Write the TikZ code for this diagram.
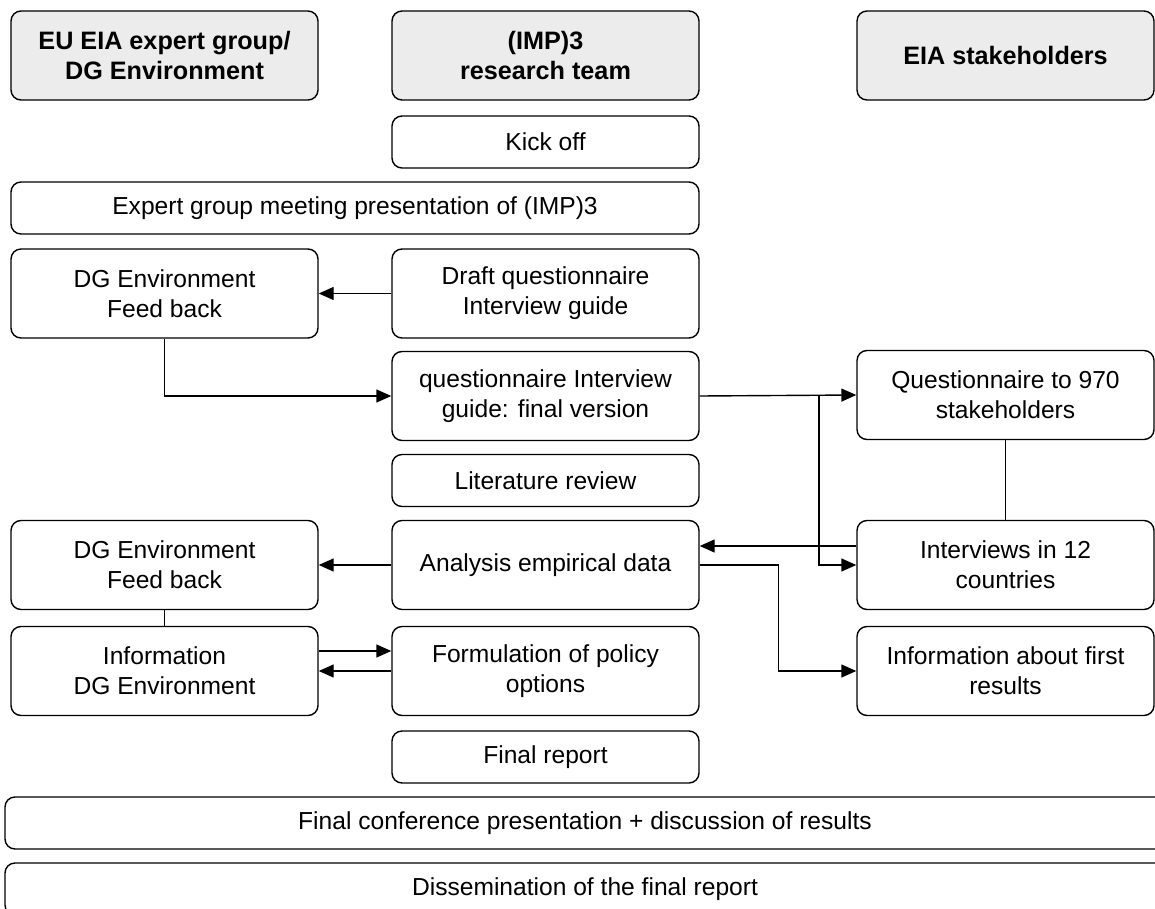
\documentclass[tikz,border=0pt]{standalone}
\usepackage{fontspec}
\setmainfont{Liberation Sans}
\usetikzlibrary{arrows.meta}
\definecolor{hdrfill}{RGB}{236,236,236}
\begin{document}
\begin{tikzpicture}[x=0.5pt,y=-0.5pt,
  box/.style={draw=black, line width=0.7pt, rounded corners=5pt, align=center,
    inner sep=0pt, font=\fontsize{12.3}{15}\selectfont, fill=white},
  colbox/.style={box, minimum width=153.5pt, minimum height=44.5pt},
  colsmall/.style={box, minimum width=153.5pt, minimum height=26pt},
  rightbox/.style={box, minimum width=148.5pt, minimum height=44.5pt},
  hdr/.style={box, fill=hdrfill, font=\fontsize{12.6}{15}\selectfont\bfseries},
  conn/.style={line width=0.7pt},
  arr/.style={conn, -{Triangle[length=7.5pt,width=6.5pt]}}]
\useasboundingbox (0,0) rectangle (1155,909);

% headers
\node[hdr, minimum width=153.5pt, minimum height=44.5pt] (hEU) at (164.5,55.5) {EU EIA expert group/\\DG Environment};
\node[hdr, minimum width=153.5pt, minimum height=44.5pt] (hIMP) at (545.5,55.5) {(IMP)3\\research team};
\node[hdr, minimum width=148.5pt, minimum height=44.5pt] (hEIA) at (1005.5,55.5) {EIA stakeholders};

% middle column
\node[colsmall] (kick) at (545.5,142) {Kick off};
\node[box, minimum width=344pt, minimum height=26pt] (expert) at (355,208) {Expert group meeting presentation of (IMP)3};
\node[colbox] (draft) at (545.5,293.5) {Draft questionnaire\\Interview guide};
\node[colbox] (qfinal) at (545.5,396) {questionnaire Interview\\guide: final version};
\node[colsmall] (lit) at (545.5,480.5) {Literature review};
\node[colbox] (analysis) at (545.5,565) {Analysis empirical data};
\node[colbox] (formul) at (545.5,671) {Formulation of policy\\options};
\node[colsmall] (final) at (545.5,757) {Final report};

% left column
\node[colbox] (fb1) at (164.5,293.5) {DG Environment\\Feed back};
\node[colbox] (fb2) at (164.5,565) {DG Environment\\Feed back};
\node[colbox] (infoDG) at (164.5,671) {Information\\DG Environment};

% right column
\node[rightbox] (q970) at (1005.5,395) {Questionnaire to 970\\stakeholders};
\node[rightbox] (interviews) at (1005.5,565) {Interviews in 12\\countries};
\node[rightbox] (infofirst) at (1005.5,671) {Information about first\\results};

% bottom rows
\node[box, minimum width=580pt, minimum height=26pt] (conf) at (585,823) {Final conference presentation + discussion of results};
\node[box, minimum width=580pt, minimum height=26pt] (dissem) at (585,889) {Dissemination of the final report};

% connectors
\draw[arr] (draft.west) -- (fb1.east);
\draw[arr] (fb1.south) |- (qfinal.west);
\draw[arr] (qfinal.east) -- (q970.west);
\coordinate (br) at (819,396);
\draw[arr] (br) |- (interviews.west);
\draw[conn] (q970.south) -- (interviews.north);
\draw[arr] ([yshift=9.5pt]interviews.west) -- ([yshift=9.5pt]analysis.east);
\draw[arr] (analysis.east) -- ++(79,0) |- (infofirst.west);
\draw[arr] (analysis.west) -- (fb2.east);
\draw[conn] (fb2.south) -- (infoDG.north);
\draw[arr] ([yshift=10pt]infoDG.east) -- ([yshift=10pt]formul.west);
\draw[arr] (formul.west) -- (infoDG.east);
\end{tikzpicture}
\end{document}
